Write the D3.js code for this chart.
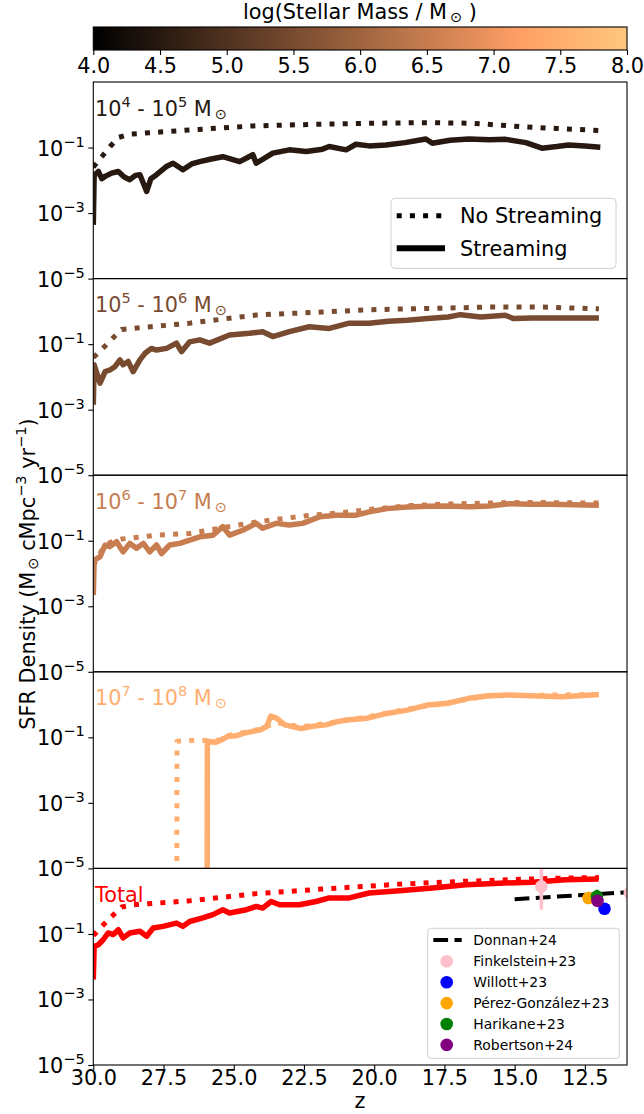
<!DOCTYPE html>
<html>
<head>
<meta charset="utf-8">
<script src="https://cdn.jsdelivr.net/npm/d3@7"></script>
<style>
body { margin: 0; background: #fff; }
text { font-family: "DejaVu Sans", sans-serif; }
</style>
</head>
<body>
<svg id="chart" width="644" height="1114"></svg>
<script>
// values are [z, log10(SFR density)]
var p1Stream = [[30.00,-3.36],[29.97,-1.85],[29.82,-1.73],[29.70,-1.95],[29.58,-1.88],[29.35,-1.78],[29.11,-1.73],[28.90,-1.90],[28.70,-1.98],[28.50,-1.85],[28.34,-1.83],[28.10,-2.34],[27.95,-1.95],[27.75,-1.83],[27.40,-1.58],[27.16,-1.48],[26.81,-1.68],[26.50,-1.50],[26.21,-1.43],[25.80,-1.35],[25.39,-1.28],[24.79,-1.43],[24.32,-1.22],[24.20,-1.48],[23.61,-1.17],[23.02,-1.07],[22.42,-1.12],[21.84,-1.05],[21.60,-0.97],[21.00,-1.07],[20.65,-0.90],[20.18,-0.95],[19.58,-0.92],[18.90,-0.85],[18.16,-0.74],[17.93,-0.87],[17.30,-0.78],[16.63,-0.74],[15.90,-0.76],[15.32,-0.75],[14.60,-0.85],[14.03,-1.02],[13.50,-0.97],[13.08,-0.92],[12.50,-0.95],[11.95,-0.99]];
var p1NoStream = [[30.0,-1.60],[29.7,-1.28],[29.4,-0.97],[29.1,-0.69],[28.7,-0.59],[28.0,-0.55],[26.5,-0.46],[24.3,-0.34],[22.0,-0.29],[20.2,-0.26],[18.0,-0.24],[16.5,-0.26],[14.8,-0.36],[13.5,-0.42],[12.0,-0.48]];

var p2Stream = [[30.00,-2.85],[29.97,-1.63],[29.76,-2.19],[29.58,-1.84],[29.41,-1.79],[29.23,-1.69],[29.05,-1.48],[28.94,-1.63],[28.76,-1.53],[28.58,-1.84],[28.34,-1.48],[28.16,-1.28],[27.93,-1.13],[27.75,-1.18],[27.39,-1.13],[27.04,-0.97],[26.86,-1.23],[26.57,-0.93],[26.21,-0.87],[25.86,-0.97],[25.15,-0.72],[24.44,-0.67],[23.97,-0.62],[23.61,-0.77],[23.02,-0.62],[22.31,-0.47],[21.60,-0.52],[20.89,-0.36],[20.18,-0.36],[19.50,-0.30],[18.82,-0.27],[18.10,-0.22],[17.37,-0.17],[16.93,-0.10],[16.20,-0.17],[15.33,-0.12],[15.04,-0.22],[14.40,-0.20],[13.74,-0.20],[12.90,-0.20],[12.00,-0.20]];
var p2NoStream = [[30.0,-1.40],[29.94,-1.36],[29.64,-1.11],[29.31,-0.82],[28.99,-0.55],[28.58,-0.52],[26.57,-0.36],[24.2,-0.11],[21.84,-0.02],[20.2,0.05],[18.0,0.09],[16.0,0.13],[14.0,0.13],[12.0,0.08]];

var p3Stream = [[30.00,-2.66],[29.97,-1.59],[29.76,-1.49],[29.58,-1.13],[29.41,-1.18],[29.17,-1.03],[28.94,-1.34],[28.70,-1.08],[28.46,-1.23],[28.22,-1.08],[27.99,-1.34],[27.75,-1.13],[27.57,-1.39],[27.28,-1.13],[26.92,-1.08],[26.57,-0.98],[26.21,-0.88],[25.74,-0.83],[25.39,-0.57],[25.15,-0.83],[24.68,-0.68],[24.20,-0.47],[23.97,-0.62],[23.49,-0.47],[23.02,-0.52],[22.55,-0.47],[21.95,-0.27],[21.36,-0.22],[20.65,-0.22],[20.18,-0.12],[19.55,-0.02],[18.82,0.03],[18.10,0.05],[17.37,0.06],[16.60,0.04],[15.92,0.06],[15.19,0.13],[14.40,0.11],[13.74,0.11],[12.90,0.10],[12.00,0.08]];
var p3NoStream = [[30.0,-1.75],[29.7,-1.30],[29.4,-1.05],[29.0,-0.95],[28.58,-0.91],[27.75,-0.83],[26.57,-0.78],[24.85,-0.52],[23.97,-0.40],[22.55,-0.25],[20.89,-0.12],[20.18,-0.05],[18.82,0.07],[17.37,0.12],[15.9,0.15],[14.46,0.17],[12.0,0.15]];

var p4Stream = [[25.95,-8],[25.94,-1.12],[25.64,-1.15],[25.45,-1.08],[25.21,-0.97],[24.90,-0.95],[24.63,-0.87],[24.05,-0.77],[23.83,-0.67],[23.68,-0.35],[23.47,-0.42],[23.18,-0.62],[22.60,-0.73],[22.20,-0.66],[21.72,-0.62],[21.30,-0.52],[20.99,-0.47],[20.27,-0.42],[19.55,-0.27],[18.82,-0.17],[18.09,-0.01],[17.37,0.04],[16.64,0.19],[15.92,0.27],[15.19,0.29],[14.46,0.27],[13.30,0.24],[12.00,0.31]];
var p4NoStream = [[27.03,-8],[27.02,-1.12],[26.6,-1.10],[26.2,-1.10],[25.94,-1.10],[25.64,-1.12],[25.21,-0.95],[24.63,-0.85],[24.05,-0.75],[23.5,-0.55],[22.6,-0.68],[21.72,-0.58],[20.27,-0.38],[18.82,-0.14],[17.37,0.06],[15.92,0.27],[14.46,0.28],[12.0,0.31]];

var totStream = [[30.00,-2.39],[29.97,-1.38],[29.82,-1.33],[29.64,-1.17],[29.47,-0.97],[29.29,-1.02],[29.11,-0.87],[28.94,-1.12],[28.70,-0.97],[28.34,-0.92],[28.10,-1.07],[27.87,-0.82],[27.52,-0.77],[27.04,-0.67],[26.81,-0.77],[26.57,-0.62],[26.10,-0.51],[25.74,-0.41],[25.39,-0.26],[25.15,-0.36],[24.55,-0.26],[24.20,-0.16],[23.97,-0.21],[23.67,-0.01],[23.37,-0.11],[22.66,-0.11],[22.07,-0.01],[21.60,0.10],[20.89,0.10],[20.18,0.25],[19.11,0.32],[17.93,0.40],[16.74,0.50],[15.55,0.55],[14.38,0.58],[13.19,0.65],[12.01,0.68]];
var totNoStream = [[30.0,-1.05],[29.64,-0.72],[29.31,-0.44],[28.99,-0.18],[28.58,-0.11],[26.57,0.01],[24.2,0.23],[21.84,0.37],[20.18,0.46],[19.1,0.52],[17.0,0.60],[15.0,0.66],[13.5,0.70],[12.0,0.72]];

var massBins = [[4,5],[5,6],[6,7],[7,8]];

// observations
var donnan = [[15.0,0.06],[11.0,0.27]];
var obsNames = ['Finkelstein+23','Willott+23','Pérez-González+23','Harikane+23','Robertson+24'];
var obsColors = ['pink','blue','orange','green','purple'];
// [z, log value, log low, log high]
var obsPoints = [
  [[14.05,0.45,-0.26,1.2],[10.9,0.25,-0.05,0.55]],
  [[11.8,-0.23,-0.36,-0.10]],
  [[12.37,0.095,0.05,0.14]],
  [[12.07,0.14,-0.05,0.35]],
  [[12.05,0.01,-0.04,0.06]]
];

var xTicks = [30, 27.5, 25, 22.5, 20, 17.5, 15, 12.5];
var yTickExp = [-5, -3, -1];
var cbTicks = [4.0, 4.5, 5.0, 5.5, 6.0, 6.5, 7.0, 7.5, 8.0];

var svg = d3.select('#chart');
var axLeft = 93.3, axRight = 627, axTop = 82, ph = 196.6;
var fs = 20.8;

function copper(t) {
  return d3.rgb(Math.min(1, 1.25 * t) * 255, 0.7812 * t * 255, 0.4975 * t * 255).formatHex();
}

var x = d3.scaleLinear().domain([30, 11]).range([axLeft, axRight]);

var streams = [p1Stream, p2Stream, p3Stream, p4Stream, totStream];
var noStreams = [p1NoStream, p2NoStream, p3NoStream, p4NoStream, totNoStream];
var colors = massBins.map(function(b) { return copper((b[0] + 0.5 - 4) / 4); }).concat(['red']);

var defs = svg.append('defs');

streams.forEach(function(s, i) {
  var t = axTop + i * ph;
  var y = d3.scaleLog().domain([1e-5, 1e1]).range([t + ph, t]);
  var line = d3.line().x(function(d) { return x(d[0]); }).y(function(d) { return y(Math.pow(10, d[1])); });

  defs.append('clipPath').attr('id', 'clip' + i)
    .append('rect').attr('x', axLeft).attr('y', t).attr('width', axRight - axLeft).attr('height', ph);

  var g = svg.append('g');
  var pg = g.append('g').attr('clip-path', 'url(#clip' + i + ')');

  pg.append('path').datum(noStreams[i]).attr('d', line)
    .attr('fill', 'none').attr('stroke', colors[i]).attr('stroke-width', 5)
    .attr('stroke-dasharray', '5,8.2').attr('stroke-linejoin', 'round');
  pg.append('path').datum(s).attr('d', line)
    .attr('fill', 'none').attr('stroke', colors[i]).attr('stroke-width', 5.5)
    .attr('stroke-linejoin', 'round');

  if (i == 4) {
    pg.append('path').datum(donnan).attr('d', line)
      .attr('fill', 'none').attr('stroke', '#000').attr('stroke-width', 4)
      .attr('stroke-dasharray', '14.8,6.4');
    obsPoints.forEach(function(pts, k) {
      pts.forEach(function(p) {
        pg.append('line')
          .attr('x1', x(p[0])).attr('x2', x(p[0]))
          .attr('y1', y(Math.pow(10, p[2]))).attr('y2', y(Math.pow(10, p[3])))
          .attr('stroke', obsColors[k]).attr('stroke-width', 3.5);
        pg.append('circle').attr('cx', x(p[0])).attr('cy', y(Math.pow(10, p[1])))
          .attr('r', 6.3).attr('fill', obsColors[k]);
      });
    });
  }

  // y axis
  var ax = g.append('g').attr('transform', 'translate(' + axLeft + ',0)')
    .call(d3.axisLeft(y).tickValues(yTickExp.map(function(e) { return Math.pow(10, e); }))
      .tickSize(5).tickFormat(''));
  ax.select('.domain').remove();
  ax.selectAll('line').attr('stroke', '#000').attr('stroke-width', 1.1);
  yTickExp.forEach(function(e) {
    var tx = g.append('text').attr('x', axLeft - 8.5).attr('y', y(Math.pow(10, e)) + 8)
      .attr('text-anchor', 'end').attr('font-size', fs);
    tx.append('tspan').text('10');
    tx.append('tspan').attr('dy', -9).attr('font-size', fs * 0.7).text('\u2212' + Math.abs(e));
  });

  // frame
  g.append('rect').attr('x', axLeft).attr('y', t).attr('width', axRight - axLeft).attr('height', ph)
    .attr('fill', 'none').attr('stroke', '#000').attr('stroke-width', 1.1);

  // panel label
  var lab = g.append('text').attr('x', 95).attr('y', t + 33.5).attr('font-size', fs).attr('fill', colors[i]);
  if (i < 4) {
    lab.append('tspan').text('10');
    lab.append('tspan').attr('dy', -9).attr('font-size', fs * 0.7).text(massBins[i][0]);
    lab.append('tspan').attr('dy', 9).text(' - 10');
    lab.append('tspan').attr('dy', -9).attr('font-size', fs * 0.7).text(massBins[i][1]);
    lab.append('tspan').attr('dy', 9).text(' M');
    lab.append('tspan').attr('dy', 3).attr('dx', 3).attr('font-size', fs * 0.7).text('\u2299');
  } else {
    lab.text('Total');
  }

  if (i == 4) {
    var xa = g.append('g').attr('transform', 'translate(0,' + (t + ph) + ')')
      .call(d3.axisBottom(x).tickValues(xTicks).tickSize(5).tickPadding(0).tickFormat(d3.format('.1f')));
    xa.select('.domain').remove();
    xa.selectAll('line').attr('stroke', '#000').attr('stroke-width', 1.1);
    xa.selectAll('text').attr('font-size', fs).attr('fill', '#000')
      .style('font-family', '"DejaVu Sans", sans-serif');
  }
});

// legend in first panel
var l1 = svg.append('g');
l1.append('rect').attr('x', 391).attr('y', 198.3).attr('width', 225).attr('height', 70).attr('rx', 4)
  .attr('fill', '#fff').attr('fill-opacity', 0.8).attr('stroke', '#d0d0d0');
[['No Streaming', '5,8.2', 5], ['Streaming', null, 6]].forEach(function(d, k) {
  var yy = 215.7 + k * 32.6;
  var ln = l1.append('line').attr('x1', 396.7).attr('x2', 445).attr('y1', yy).attr('y2', yy)
    .attr('stroke', '#000').attr('stroke-width', d[2]);
  if (d[1]) ln.attr('stroke-dasharray', d[1]);
  l1.append('text').attr('x', 460).attr('y', yy + 7.5).attr('font-size', fs).text(d[0]);
});

// legend in bottom panel
var l2 = svg.append('g');
l2.append('rect').attr('x', 427.7).attr('y', 928.3).attr('width', 191.6).attr('height', 130).attr('rx', 3)
  .attr('fill', '#fff').attr('fill-opacity', 0.8).attr('stroke', '#d0d0d0');
l2.append('line').attr('x1', 433.3).attr('x2', 461.7).attr('y1', 940).attr('y2', 940)
  .attr('stroke', '#000').attr('stroke-width', 4).attr('stroke-dasharray', '14.8,6.4');
l2.append('text').attr('x', 473.3).attr('y', 945).attr('font-size', 13.9).text('Donnan+24');
obsNames.forEach(function(n, k) {
  var yy = 961.3 + k * 20.9;
  l2.append('circle').attr('cx', 446.7).attr('cy', yy).attr('r', 6.3).attr('fill', obsColors[k]);
  l2.append('text').attr('x', 473.3).attr('y', yy + 5).attr('font-size', 13.9).text(n);
});

// colorbar
var cb = d3.scaleLinear().domain([4, 8]).range([axLeft, axRight]);
var grad = defs.append('linearGradient').attr('id', 'cgrad').attr('x1', '0%').attr('x2', '100%');
d3.range(0, 1.0001, 0.05).forEach(function(t) {
  grad.append('stop').attr('offset', (t * 100) + '%').attr('stop-color', copper(t));
});
svg.append('rect').attr('x', axLeft).attr('y', 27).attr('width', axRight - axLeft).attr('height', 23)
  .attr('fill', 'url(#cgrad)').attr('stroke', '#000').attr('stroke-width', 1.1);
var cba = svg.append('g').attr('transform', 'translate(0,50)')
  .call(d3.axisBottom(cb).tickValues(cbTicks).tickSize(5).tickPadding(3).tickFormat(d3.format('.1f')));
cba.select('.domain').remove();
cba.selectAll('line').attr('stroke', '#000').attr('stroke-width', 1.1);
cba.selectAll('text').attr('font-size', fs).attr('fill', '#000').style('font-family', '"DejaVu Sans", sans-serif');

var cbl = svg.append('text').attr('x', 360).attr('y', 19).attr('text-anchor', 'middle').attr('font-size', fs);
cbl.append('tspan').text('log(Stellar Mass / M');
cbl.append('tspan').attr('dy', 3).attr('dx', 3).attr('font-size', fs * 0.7).text('\u2299');
cbl.append('tspan').attr('dy', -3).text(' )');

// axis labels
svg.append('text').attr('x', 360).attr('y', 1108).attr('text-anchor', 'middle').attr('font-size', fs).text('z');
var yl = svg.append('text').attr('transform', 'translate(35,574) rotate(-90)')
  .attr('text-anchor', 'middle').attr('font-size', fs);
yl.append('tspan').text('SFR Density (M');
yl.append('tspan').attr('dy', 3).attr('dx', 2).attr('font-size', fs * 0.7).text('\u2299');
yl.append('tspan').attr('dy', -3).text('  cMpc');
yl.append('tspan').attr('dy', -9).attr('font-size', fs * 0.7).text('\u22123');
yl.append('tspan').attr('dy', 9).text(' yr');
yl.append('tspan').attr('dy', -9).attr('font-size', fs * 0.7).text('\u22121');
yl.append('tspan').attr('dy', 9).text(')');
</script>
</body>
</html>
